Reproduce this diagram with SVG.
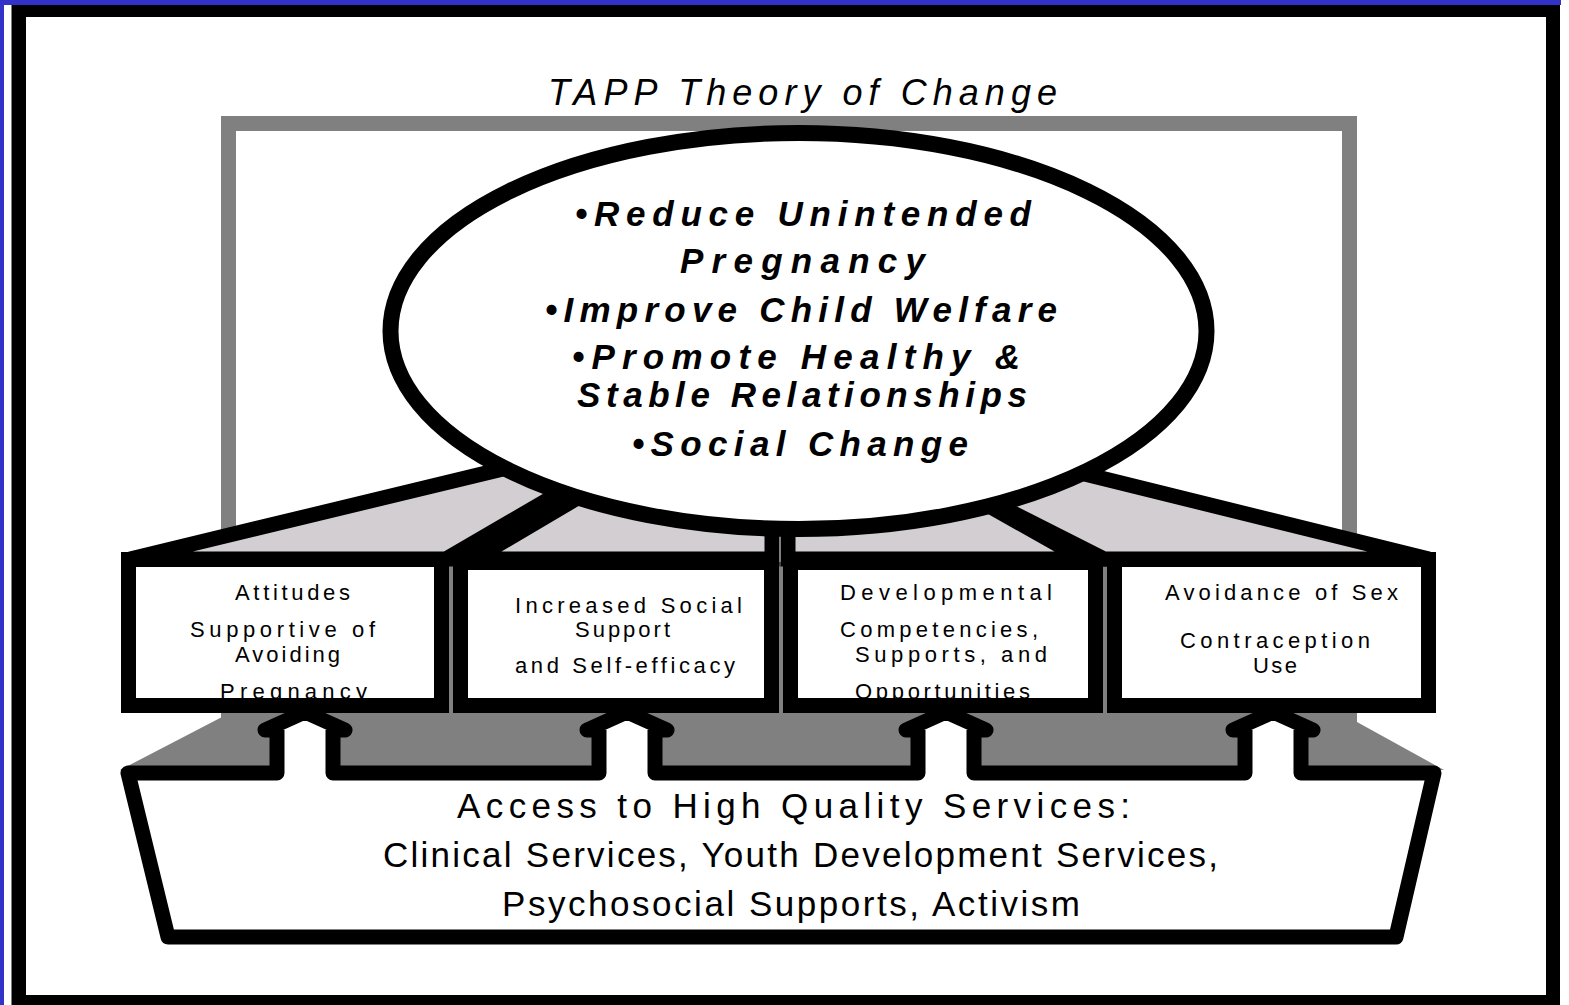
<svg xmlns="http://www.w3.org/2000/svg" width="1569" height="1005" viewBox="0 0 1569 1005">
<style>
.box{fill:#fff;stroke:none}
.boxb{fill:none;stroke:#000;stroke-width:15;stroke-linejoin:miter}
.bt{font-family:"Liberation Sans",Arial,sans-serif;font-size:22px;fill:#000}
.gt{font-family:"Liberation Sans",Arial,sans-serif;font-size:35px;font-weight:bold;font-style:italic;fill:#000}
.st{font-family:"Liberation Sans",Arial,sans-serif;font-size:35px;fill:#000}
.trap{fill:#d2ced2;stroke:#000;stroke-width:15;stroke-linejoin:miter}
</style>
<rect x="0" y="0" width="1569" height="1005" fill="#fff"/>
<rect x="0" y="0" width="4" height="1005" fill="#3232c8"/>
<rect x="0" y="0" width="1561" height="5" fill="#3232c8"/>
<rect x="11.5" y="5" width="1548.5" height="1000" fill="#000"/>
<rect x="26" y="17" width="1520" height="978" fill="#fff"/>
<g id="backdrop">
<rect x="228.5" y="123.5" width="1121" height="600" fill="none" stroke="#808080" stroke-width="15"/>
<polygon points="222,700 1357,700 1357,722 1444,770 120,770 222,717" fill="#808080"/>
<rect x="449" y="562" width="4" height="151" fill="#808080"/>
<rect x="779" y="562" width="4" height="151" fill="#808080"/>
<rect x="1103" y="562" width="4" height="151" fill="#808080"/>
</g>
<g id="title">
<text x="548" y="105" font-family="Liberation Sans, Arial, sans-serif" font-size="36" font-style="italic" textLength="509" lengthAdjust="spacing">TAPP Theory of Change</text>
</g>
<g id="connectors">
<polygon class="trap" points="130,559 540,460 580,481 446,559"/>
<polygon class="trap" points="474,559 608,480 772,480 772,559"/>
<polygon class="trap" points="788,559 788,480 943,480 1083,559"/>
<polygon class="trap" points="1104,559 948,480 1040,463 1429,559"/>
</g>
<g id="goals">
<ellipse cx="798.5" cy="331" rx="408" ry="198" fill="#fff" stroke="#000" stroke-width="16"/>
<text class="gt" x="575" y="226" textLength="456" lengthAdjust="spacing">•Reduce Unintended</text>
<text class="gt" x="680" y="273" textLength="245" lengthAdjust="spacing">Pregnancy</text>
<text class="gt" x="545" y="322" textLength="512" lengthAdjust="spacing">•Improve Child Welfare</text>
<text class="gt" x="572" y="369" textLength="448" lengthAdjust="spacing">•Promote Healthy &amp;</text>
<text class="gt" x="577" y="407" textLength="450" lengthAdjust="spacing">Stable Relationships</text>
<text class="gt" x="632" y="456" textLength="336" lengthAdjust="spacing">•Social Change</text>
</g>
<g id="box1">
<rect class="box" x="128.5" y="559.5" width="313" height="146"/>
<text class="bt" x="235" y="600" textLength="115" lengthAdjust="spacing">Attitudes</text>
<text class="bt" x="190" y="637" textLength="185" lengthAdjust="spacing">Supportive of</text>
<text class="bt" x="235" y="662" textLength="105" lengthAdjust="spacing">Avoiding</text>
<text class="bt" x="220" y="699" textLength="147" lengthAdjust="spacing">Pregnancy</text>
<rect class="boxb" x="128.5" y="559.5" width="313" height="146"/>
</g>
<g id="box2">
<rect class="box" x="460.5" y="562.5" width="311" height="143"/>
<text class="bt" x="515" y="613" textLength="227" lengthAdjust="spacing">Increased Social</text>
<text class="bt" x="575" y="637" textLength="95" lengthAdjust="spacing">Support</text>
<text class="bt" x="515" y="673" textLength="220" lengthAdjust="spacing">and Self-efficacy</text>
<rect class="boxb" x="460.5" y="562.5" width="311" height="143"/>
</g>
<g id="box3">
<rect class="box" x="790.5" y="562.5" width="305" height="143"/>
<text class="bt" x="840" y="600" textLength="212" lengthAdjust="spacing">Developmental</text>
<text class="bt" x="840" y="637" textLength="198" lengthAdjust="spacing">Competencies,</text>
<text class="bt" x="855" y="662" textLength="192" lengthAdjust="spacing">Supports, and</text>
<text class="bt" x="855" y="699" textLength="175" lengthAdjust="spacing">Opportunities</text>
<rect class="boxb" x="790.5" y="562.5" width="305" height="143"/>
</g>
<g id="box4">
<rect class="box" x="1114.5" y="559.5" width="314" height="146"/>
<text class="bt" x="1165" y="600" textLength="233" lengthAdjust="spacing">Avoidance of Sex</text>
<text class="bt" x="1180" y="648" textLength="190" lengthAdjust="spacing">Contraception</text>
<text class="bt" x="1253" y="673" textLength="44" lengthAdjust="spacing">Use</text>
<rect class="boxb" x="1114.5" y="559.5" width="314" height="146"/>
</g>
<g id="services">
<path d="M128,773 H277 V730 H265 L305,712 L345,730 H333 V773 H599 V730 H587 L627,712 L667,730 H655 V773 H918 V730 H906 L946,712 L986,730 H974 V773 H1245 V730 H1233 L1273,712 L1313,730 H1301 V773 H1434 L1396,937 H168 Z" fill="#fff" stroke="#000" stroke-width="15" stroke-linejoin="round"/>
<text class="st" x="457" y="818" textLength="673" lengthAdjust="spacing">Access to High Quality Services:</text>
<text class="st" x="383" y="867" textLength="835" lengthAdjust="spacing">Clinical Services, Youth Development Services,</text>
<text class="st" x="502" y="916" textLength="578" lengthAdjust="spacing">Psychosocial Supports, Activism</text>
</g>
</svg>
